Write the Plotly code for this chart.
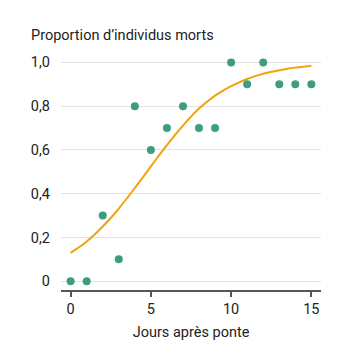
import plotly.graph_objects as go

days = list(range(16))
obs = [0, 0, 0.3, 0.1, 0.8, 0.6, 0.7, 0.8, 0.7, 0.7, 1.0, 0.9, 1.0, 0.9, 0.9, 0.9]
fit_x = [0, 0.5, 1, 1.5, 2, 2.5, 3, 3.5, 4, 4.5, 5, 5.5, 6, 6.5, 7, 7.5,
         8, 8.5, 9, 9.5, 10, 10.5, 11, 11.5, 12, 12.5, 13, 13.5, 14, 14.5, 15]
fit_y = [0.130, 0.154, 0.182, 0.214, 0.250, 0.289, 0.332, 0.378, 0.426, 0.475,
         0.525, 0.574, 0.622, 0.668, 0.711, 0.752, 0.789, 0.820, 0.848, 0.871,
         0.891, 0.909, 0.924, 0.937, 0.948, 0.957, 0.964, 0.971, 0.976, 0.980, 0.984]
y_ticks = [0, 0.2, 0.4, 0.6, 0.8, 1.0]
y_labels = ["0", "0,2", "0,4", "0,6", "0,8", "1,0"]
x_ticks = [0, 5, 10, 15]

fig = go.Figure()
fig.add_trace(go.Scatter(x=fit_x, y=fit_y, mode="lines", line=dict(color="#f0a30a", width=2, shape="spline", smoothing=0.6),
                         hoverinfo="skip", showlegend=False))
fig.add_trace(go.Scatter(x=days, y=obs, mode="markers", marker=dict(color="#3f9d7f", size=8),
                         showlegend=False))

font = "Roboto, sans-serif"
fig.update_layout(
    width=351, height=364,
    margin=dict(l=61, r=30, t=58, b=74),
    plot_bgcolor="white", paper_bgcolor="white",
    font=dict(family=font, size=14, color="#222"),
    annotations=[dict(text="Proportion d’individus morts", xref="paper", yref="paper",
                      x=-0.125, y=1.0, xanchor="left", yanchor="bottom", yshift=12,
                      showarrow=False, font=dict(size=14.5, color="#222", family=font))],
)
fig.update_xaxes(range=[-0.6, 15.6], tickvals=x_ticks, showgrid=False, zeroline=False,
                 showline=True, linecolor="#555", linewidth=1.5, ticks="outside", ticklen=5,
                 tickcolor="#555", tickwidth=1.5, tickfont=dict(size=14.5),
                 title=dict(text="Jours après ponte", standoff=10, font=dict(size=14.5)))
fig.update_yaxes(range=[-0.04, 1.02], tickvals=y_ticks, ticktext=y_labels, showgrid=True,
                 gridcolor="#e3e3e3", gridwidth=1, zeroline=False, showline=False, ticks="",
                 ticklabelstandoff=10, tickfont=dict(size=14.5))

fig.write_html("out.html")
